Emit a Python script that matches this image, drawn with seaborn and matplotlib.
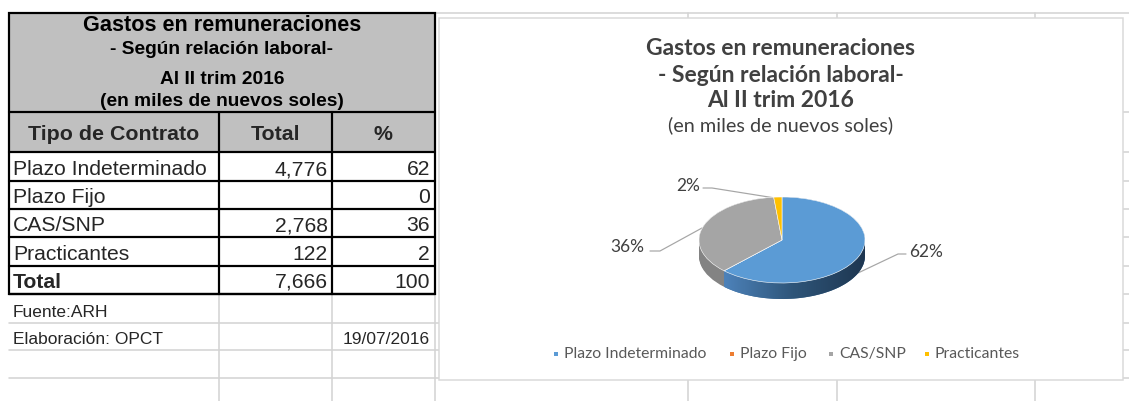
import numpy as np
import matplotlib
matplotlib.use("Agg")
import matplotlib.pyplot as plt
from matplotlib.patches import Rectangle, PathPatch
from matplotlib.path import Path
from matplotlib.colors import LinearSegmentedColormap
import seaborn as sns

# ---------------- data ----------------
categories = ["Plazo Indeterminado", "Plazo Fijo", "CAS/SNP", "Practicantes"]
totals = [4776, None, 2768, 122]          # miles de nuevos soles
percents = [62, 0, 36, 2]
grand_total = 7666
grand_percent = 100

title_lines = ["Gastos en remuneraciones", "- Según relación laboral-",
               "Al II trim 2016", "(en miles de nuevos soles)"]
header = ["Tipo de Contrato", "Total", "%"]
source_note = "Fuente:ARH"
author_note = "Elaboración: OPCT"
date_note = "19/07/2016"

# ---------------- style ----------------
sns.set_theme(style="white")
plt.rcParams["font.family"] = ["Liberation Sans", "DejaVu Sans"]
top_colors = sns.color_palette(["#5B9BD5", "#ED7D31", "#A5A5A5", "#FFC000"])
side_colors = sns.color_palette(["#3F6E9A", "#B05A20", "#838383", "#C79600"])

W, H = 1129, 401
fig = plt.figure(figsize=(W / 100, H / 100), dpi=100)
fig.patch.set_facecolor("white")
bg = fig.add_axes([0, 0, 1, 1])
bg.set_xlim(0, W)
bg.set_ylim(H, 0)
bg.axis("off")

def px(v):
    return v * 0.72

grid_c = "#D4D4D4"
black = "#000000"

# spreadsheet row / column geometry (pixels)
tx0, tx1 = 9, 435
col1, col2 = 219, 332
row_lines = [112, 152, 181, 209, 237, 266, 294]
extra_rows = [323, 350, 378]

# light spreadsheet gridlines
for y in extra_rows:
    bg.plot([tx0, 439], [y, y], color=grid_c, lw=px(1.6), zorder=1)
for x in [col1, col2, tx1]:
    bg.plot([x, x], [294, H], color=grid_c, lw=px(1.6), zorder=1)
bg.plot([tx1, W], [13, 13], color=grid_c, lw=px(1.6), zorder=1)
for x in [688, 837, 1035]:
    bg.plot([x, x], [13, 18], color=grid_c, lw=px(1.6), zorder=1)
    bg.plot([x, x], [380, H], color=grid_c, lw=px(1.6), zorder=1)
for y in [112, 152, 181, 209, 237, 266, 294, 323, 350, 378]:
    bg.plot([1123, W], [y, y], color=grid_c, lw=px(1.6), zorder=1)

# header shading
bg.add_patch(Rectangle((tx0, 13), tx1 - tx0, 152 - 13, facecolor="#C0C0C0",
                       edgecolor="none", zorder=2))

# table title
title_specs = [(31, 15.6, "bold"), (54, 13.8, "bold"), (84, 13.8, "bold"), (106, 13.8, "bold")]
for line, (yb, fs, fw) in zip(title_lines, title_specs):
    bg.text((tx0 + tx1) / 2, yb, line, ha="center", va="baseline", fontsize=fs,
            fontweight=fw, color="black", zorder=3)

# header row
bg.text((tx0 + col1) / 2, 140, header[0], ha="center", va="baseline", fontsize=15.4,
        fontweight="bold", zorder=3)
bg.text((col1 + col2) / 2, 140, header[1], ha="center", va="baseline", fontsize=15.4,
        fontweight="bold", zorder=3)
bg.text((col2 + tx1) / 2, 140, header[2], ha="center", va="baseline", fontsize=15.4,
        fontweight="bold", zorder=3)

# data rows
for i, (cat, tot, pc) in enumerate(zip(categories, totals, percents)):
    yb = row_lines[i + 2] - 6
    bg.text(13, yb, cat, ha="left", va="baseline", fontsize=15.2, zorder=3)
    if tot is not None:
        bg.text(col2 - 4, yb, f"{tot:,}", ha="right", va="baseline", fontsize=15.2, zorder=3)
    bg.text(tx1 - 5, yb, f"{pc}", ha="right", va="baseline", fontsize=15.2, zorder=3)

yb = 288
bg.text(13, yb, "Total", ha="left", va="baseline", fontsize=15.2, fontweight="bold", zorder=3)
bg.text(col2 - 4, yb, f"{grand_total:,}", ha="right", va="baseline", fontsize=15.2, zorder=3)
bg.text(tx1 - 5, yb, f"{grand_percent}", ha="right", va="baseline", fontsize=15.2, zorder=3)

bg.text(13, 317, source_note, ha="left", va="baseline", fontsize=12.5, zorder=3)
bg.text(13, 344, author_note, ha="left", va="baseline", fontsize=12.5, zorder=3)
bg.text(tx1 - 5, 344, date_note, ha="right", va="baseline", fontsize=12.5, zorder=3)

# black table borders
bg.add_patch(Rectangle((tx0, 13), tx1 - tx0, 294 - 13, facecolor="none",
                       edgecolor=black, lw=px(2.2), zorder=4))
for y in row_lines:
    bg.plot([tx0, tx1], [y, y], color=black, lw=px(2.2), zorder=4)
for x in [col1, col2]:
    bg.plot([x, x], [112, 294], color=black, lw=px(2.2), zorder=4)

# chart frame
bg.add_patch(Rectangle((439, 18), 1123 - 439, 380 - 18, facecolor="white",
                       edgecolor="#D9D9D9", lw=px(1.5), zorder=2))

chart_font = ["Lato", "DejaVu Sans"]
cx = 781
chart_title_specs = [(55, 16.5, "bold"), (82, 16.5, "bold"), (107, 16.5, "bold"), (131, 14.3, "normal")]
for line, (yb, fs, fw) in zip(title_lines, chart_title_specs):
    bg.text(cx, yb, line, ha="center", va="baseline", fontsize=fs, fontweight=fw,
            color="#404040", family=chart_font, zorder=5)

# ---------------- 3D-looking pie ----------------
pie_values = [t if t is not None else 0 for t in totals]
pcx, pcy = 782, 240        # centre of the top face (px)
ax_rx, ax_ry = 83, 43      # semi-axes of the top face (px)
depth = 16 / ax_ry         # thickness in y data units
xl, yl_lo, yl_hi = 1.3, -1.7, 1.3
aw, ah = 2 * xl * ax_rx, (yl_hi - yl_lo) * ax_ry
left_px, top_px = pcx - xl * ax_rx, pcy - yl_hi * ax_ry
pax = fig.add_axes([left_px / W, 1 - (top_px + ah) / H, aw / W, ah / H])
pax.set_facecolor("none")

n_layers = 18
for d in np.linspace(depth, 0.0, n_layers):
    pax.pie(pie_values, colors=side_colors, startangle=90, counterclock=False,
            center=(0, -d), wedgeprops=dict(linewidth=0, antialiased=True))

# shading of the front side of the biggest slice
frac = np.cumsum(pie_values) / np.sum(pie_values)
end_blue = frac[0] * 360
th = np.radians(np.linspace(90, min(end_blue, 270), 60))
top_arc = np.column_stack([np.sin(th), np.cos(th)])
bot_arc = np.column_stack([np.sin(th[::-1]), np.cos(th[::-1]) - depth])
side_path = Path(np.vstack([top_arc, bot_arc, top_arc[:1]]), closed=True)
side_patch = PathPatch(side_path, transform=pax.transData, facecolor="none", edgecolor="none")
pax.add_patch(side_patch)
shade = LinearSegmentedColormap.from_list("side", ["#4F85BE", "#2E5579", "#1E3650"])
grad = np.linspace(0, 1, 256).reshape(1, -1)
img = pax.imshow(grad, cmap=shade, extent=(-0.75, 1.0, -1 - depth, 0), aspect="auto",
                 zorder=3, interpolation="bicubic")
img.set_clip_path(side_patch)

wedges, _ = pax.pie(pie_values, colors=top_colors, startangle=90, counterclock=False,
                    wedgeprops=dict(edgecolor="white", linewidth=0.4))
for w in wedges:
    w.set_zorder(4)
pax.set_aspect("auto")
pax.set_xlim(-xl, xl)
pax.set_ylim(yl_lo, yl_hi)
pax.axis("off")

# data labels with leader lines
lead_c = "#A6A6A6"
share = [round(v / sum(pie_values) * 100) for v in pie_values]
label_specs = {
    0: dict(text_xy=(909, 252), ha="left", line=[(858, 273), (898, 254), (906, 254)]),
    2: dict(text_xy=(644, 247), ha="right", line=[(650, 251), (660, 251), (702, 228)]),
    3: dict(text_xy=(700, 186), ha="right", line=[(703, 188), (712, 188), (775, 198)]),
}
for i, spec in label_specs.items():
    xs, ys = zip(*spec["line"])
    bg.plot(xs, ys, color=lead_c, lw=px(1.2), zorder=6)
    bg.text(spec["text_xy"][0], spec["text_xy"][1], f"{share[i]}%", ha=spec["ha"],
            va="center", fontsize=12.5, color="#404040", family=chart_font, zorder=6)

# legend
legend_x = [556, 732, 831, 927]
for cat, col, lx in zip(categories, top_colors, legend_x):
    bg.add_patch(Rectangle((lx - 2, 352), 4, 4, facecolor=col, edgecolor="none", zorder=6))
    bg.text(lx + 8, 354, cat, ha="left", va="center", fontsize=11.3, color="#595959",
            family=chart_font, zorder=6)

fig.savefig("out.png", dpi=100, facecolor="white")
